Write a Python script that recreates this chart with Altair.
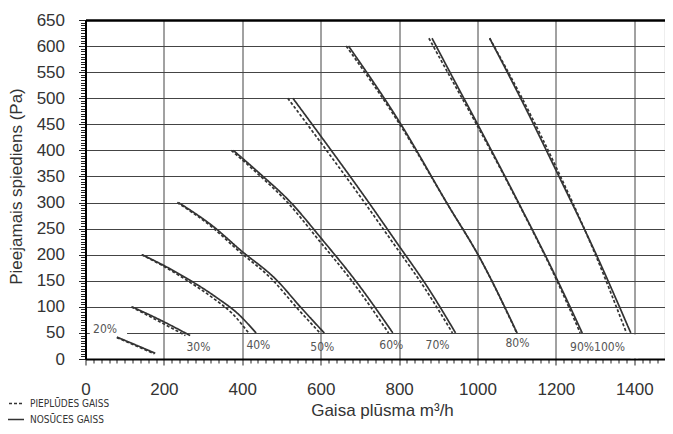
import altair as alt
import pandas as pd

FONT = "Liberation Sans"
NARROW = "Liberation Sans Narrow, DejaVu Sans Condensed, sans-serif"

speeds = ["20%", "30%", "40%", "50%", "60%", "70%", "80%", "90%", "100%"]

# Extract air (solid) curves: flow m3/h and pressure Pa
extract_x = [
    [80, 128, 178],
    [119, 190, 267],
    [144, 198, 262, 336, 390, 435],
    [237, 326, 395, 488, 548, 609],
    [377, 450, 520, 605, 695, 784],
    [529, 622, 718, 795, 875, 944],
    [671, 803, 925, 1005, 1101],
    [884, 931, 999, 1101, 1204, 1267],
    [1031, 1120, 1204, 1300, 1391],
]
extract_y = [
    [42, 27, 11],
    [100, 75, 45],
    [200, 180, 153, 117, 86, 50],
    [300, 254, 209, 151, 100, 50],
    [400, 352, 303, 228, 144, 50],
    [500, 405, 305, 222, 135, 50],
    [600, 452, 295, 195, 50],
    [615, 548, 452, 305, 151, 50],
    [615, 485, 356, 205, 50],
]

# Supply air (dashed) curves
supply_x = [
    [80, 127, 176],
    [117, 183, 255],
    [143, 194, 254, 325, 376, 416],
    [234, 321, 388, 478, 537, 598],
    [372, 444, 512, 595, 685, 773],
    [516, 610, 707, 785, 866, 936],
    [665, 800, 925, 1005, 1100],
    [876, 925, 996, 1100, 1202, 1262],
    [1031, 1124, 1208, 1298, 1380],
]
supply_y = [
    [41, 26, 10],
    [100, 74, 45],
    [200, 180, 153, 117, 86, 50],
    [300, 254, 209, 151, 100, 50],
    [400, 352, 303, 228, 144, 50],
    [500, 405, 305, 222, 135, 50],
    [600, 452, 295, 195, 50],
    [615, 548, 452, 305, 151, 50],
    [615, 485, 356, 205, 50],
]

series_names = ["PIEPLŪDES GAISS", "NOSŪCES GAISS"]

# Speed labels
label_text = ["20%", "30%", "40%", "50%", "60%", "70%", "80%", "90%100%"]
label_x = [50, 288, 441, 604, 780, 898, 1102, 1306]
label_y = [57, 23, 27, 23, 27, 27, 31, 23]

# White patches behind labels (gridline gaps)
mask_x1 = [11, 1390]
mask_x2 = [106, 1410]
mask_y1 = [44, 1.5]
mask_y2 = [68, 47]

rows = []
for i, s in enumerate(speeds):
    for j, (x, y) in enumerate(zip(supply_x[i], supply_y[i])):
        rows.append({"speed": s, "series": series_names[0], "flow": x,
                     "pressure": y, "ord": j, "curve": s + "-S"})
    for j, (x, y) in enumerate(zip(extract_x[i], extract_y[i])):
        rows.append({"speed": s, "series": series_names[1], "flow": x,
                     "pressure": y, "ord": j, "curve": s + "-E"})
df = pd.DataFrame(rows)

labels_df = pd.DataFrame({"text": label_text, "x": label_x, "y": label_y})
mask_df = pd.DataFrame({"x1": mask_x1, "x2": mask_x2, "y1": mask_y1, "y2": mask_y2})

XMAX = 1477
xscale = alt.Scale(domain=[0, XMAX], nice=False, zero=True)
yscale = alt.Scale(domain=[0, 650], nice=False, zero=True)

x_axis = alt.Axis(
    values=list(range(0, XMAX + 1, 20)),
    tickCount=1000,
    format="d",
    labelExpr="datum.value % 200 === 0 ? datum.label : ''",
    labelOverlap=False,
    labelFlush=False,
    labelFont=FONT, labelFontSize=17, labelColor="#333", labelPadding=16,
    tickSize={"condition": {"test": "datum.value % 200 === 0", "value": 6}, "value": 4},
    tickColor="#222", tickWidth=1,
    grid=True,
    gridOpacity={"condition": {"test": "datum.value % 200 === 0", "value": 1}, "value": 0},
    gridColor="#444", gridWidth=1,
    domainColor="#000", domainWidth=2,
    title="Gaisa plūsma m³/h", titleFont=FONT, titleFontSize=17,
    titleFontWeight="normal", titleColor="#333",
    titleX=296.5, titleY=51, titleAlign="center", titleBaseline="middle",
)

y_axis = alt.Axis(
    values=list(range(0, 651, 5)),
    tickCount=1000,
    format="d",
    labelExpr="datum.value % 50 === 0 ? datum.label : ''",
    labelOverlap=False,
    labelFlush=False,
    labelFont=FONT, labelFontSize=17, labelColor="#333", labelPadding=14,
    tickSize={"condition": {"test": "datum.value % 50 === 0", "value": 7}, "value": 5},
    tickColor="#222", tickWidth=1,
    grid=True,
    gridOpacity={"condition": {"test": "datum.value % 50 === 0", "value": 1}, "value": 0},
    gridColor={"condition": {"test": "datum.value === 650", "value": "#000"}, "value": "#444"},
    gridWidth={"condition": {"test": "datum.value === 650", "value": 2.5}, "value": 1},
    domainColor="#000", domainWidth=2,
    title="Pieejamais spiediens (Pa)", titleFont=FONT, titleFontSize=17,
    titleFontWeight="normal", titleColor="#333",
    titleX=-69.5, titleY=166, titleAlign="center", titleBaseline="middle",
)

mask = alt.Chart(mask_df).mark_rect(color="white").encode(
    x=alt.X("x1:Q", scale=xscale, axis=x_axis),
    x2="x2:Q",
    y=alt.Y("y1:Q", scale=yscale, axis=y_axis),
    y2="y2:Q",
)

lines = alt.Chart(df).mark_line(color="#333", strokeWidth=1.7, interpolate="monotone").encode(
    x=alt.X("flow:Q", scale=xscale, axis=x_axis),
    y=alt.Y("pressure:Q", scale=yscale, axis=y_axis),
    detail="curve:N",
    order="ord:Q",
    strokeDash=alt.StrokeDash(
        "series:N",
        scale=alt.Scale(domain=series_names, range=[[3, 2], [1, 0]]),
        legend=alt.Legend(
            title=None, orient="none", legendX=-82.5, legendY=372.5,
            symbolType="stroke", symbolSize=400, symbolStrokeWidth=1.3,
            symbolStrokeColor="#333",
            labelFont=NARROW, labelFontSize=10, labelColor="#333",
            labelOffset=5, rowPadding=-8.5, padding=0,
        ),
    ),
)

labels = alt.Chart(labels_df).mark_text(
    font=NARROW, fontSize=12, color="#555", align="center", baseline="middle"
).encode(
    x=alt.X("x:Q", scale=xscale),
    y=alt.Y("y:Q", scale=yscale),
    text="text:N",
)

chart = alt.layer(mask, lines, labels).properties(
    width=579, height=339,
    padding={"left": 77.5, "top": 12, "right": 0, "bottom": 67},
    autosize=alt.AutoSizeParams(type="none"),
).configure_view(strokeWidth=0).configure(background="white")

chart.save("out.html", embed_options={"renderer": "svg", "actions": False})
